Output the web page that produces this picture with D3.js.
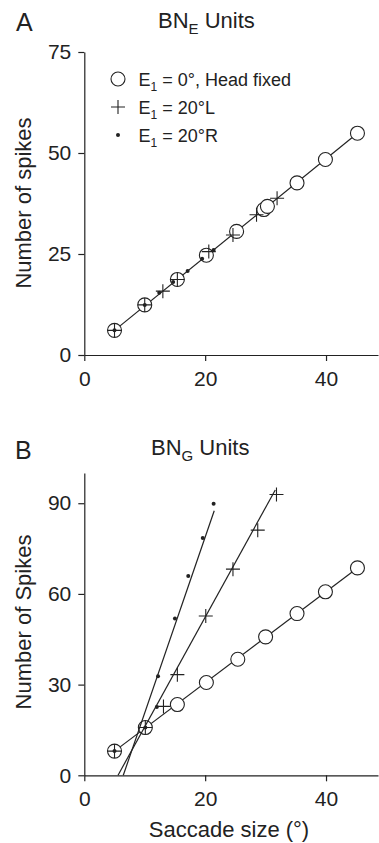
<!DOCTYPE html>
<html><head><meta charset="utf-8">
<script src="https://cdn.jsdelivr.net/npm/d3@7/dist/d3.min.js"></script>
<style>
html,body{margin:0;padding:0;background:#fff;}
svg{display:block;font-family:"Liberation Sans",Arial,Helvetica,sans-serif;}
</style></head>
<body>
<svg id="chart" width="379" height="843"></svg>
<script>
// ---------- DATA ----------
const xTicks = [0, 20, 40];
const yTicksA = [0, 25, 50, 75];
const yTicksB = [0, 30, 60, 90];

// Panel A (BN_E units)
const circA_x = [5, 10, 15.4, 20.2, 25.2, 29.7, 30.3, 35.2, 39.9, 45.2];
const circA_y = [6.1, 12.4, 18.7, 24.7, 30.6, 36.0, 36.8, 42.6, 48.4, 54.9];
const plusA_x = [5, 10, 13, 15.4, 20.6, 24.6, 28.5, 31.9];
const plusA_y = [6.1, 12.4, 15.8, 18.7, 25.6, 29.7, 34.7, 38.8];
const dotA_x = [5, 10, 12.4, 14.7, 17.1, 19.5, 21.4];
const dotA_y = [6.1, 12.4, 15.4, 18.1, 20.8, 23.8, 26.0];
const fitA_x = [5, 45.2];
const fitA_y = [6.1, 54.9];

// Panel B (BN_G units)
const circB_x = [5, 10.1, 15.4, 20.2, 25.4, 30, 35.2, 39.9, 45.2];
const circB_y = [8, 15.8, 23.4, 30.7, 38.4, 45.8, 53.5, 60.7, 68.6];
const plusB_x = [5, 10.1, 13.1, 15.4, 20.1, 24.6, 28.7, 31.8];
const plusB_y = [8, 15.8, 22.8, 33.3, 52.7, 68.2, 81.1, 92.9];
const dotB_x = [5, 10.1, 12, 12.2, 15, 17.2, 19.6, 21.4];
const dotB_y = [8, 15.8, 22.6, 32.8, 51.9, 65.9, 78.5, 89.8];
const fitBcirc_x = [5, 45.2];
const fitBcirc_y = [8, 68.6];
const fitBplus_x = [5.58, 31.6];
const fitBplus_y = [0, 94.4];
const fitBdot_x = [6.45, 21.5];
const fitBdot_y = [0, 87.5];

const legendLabels = ["0°, Head fixed", "20°L", "20°R"];

// ---------- DRAW ----------
const ink = "#222";
const svg = d3.select("#chart");
const zip = (xs, ys) => xs.map((x, i) => [x, ys[i]]);

const x = d3.scaleLinear().domain([0, 48.6]).range([84.3, 378]);
const yA = d3.scaleLinear().domain([0, 75]).range([355, 52]);
const yB = d3.scaleLinear().domain([0, 100]).range([775.3, 473]);

function axes(y, ticks) {
  const gx = svg.append("g").attr("transform", `translate(0,${y.range()[0]})`)
    .call(d3.axisBottom(x).tickValues(xTicks).tickSize(6).tickPadding(10).tickSizeOuter(0));
  const gy = svg.append("g").attr("transform", `translate(${x.range()[0]},0)`)
    .call(d3.axisLeft(y).tickValues(ticks).tickSize(6).tickPadding(7).tickSizeOuter(0));
  [gx, gy].forEach(g => {
    g.select(".domain").attr("stroke", ink).attr("stroke-width", 1.2);
    g.selectAll(".tick line").attr("stroke", ink).attr("stroke-width", 1.2);
    g.selectAll(".tick text").attr("fill", ink).style("font-size", "21px")
      .style("font-family", '"Liberation Sans",Arial,sans-serif');
  });
}

function fitLine(y, xs, ys) {
  svg.append("path").datum(zip(xs, ys))
    .attr("d", d3.line().x(d => x(d[0])).y(d => y(d[1])))
    .attr("fill", "none").attr("stroke", ink).attr("stroke-width", 1.2);
}
function circles(y, xs, ys) {
  svg.append("g").selectAll("circle").data(zip(xs, ys)).join("circle")
    .attr("cx", d => x(d[0])).attr("cy", d => y(d[1])).attr("r", 7)
    .attr("fill", "#fff").attr("stroke", ink).attr("stroke-width", 1.1);
}
const plusPath = (cx, cy, h) => `M${cx - h},${cy}H${cx + h}M${cx},${cy - h}V${cy + h}`;
function pluses(y, xs, ys) {
  svg.append("g").selectAll("path").data(zip(xs, ys)).join("path")
    .attr("d", d => plusPath(x(d[0]), y(d[1]), 7))
    .attr("fill", "none").attr("stroke", ink).attr("stroke-width", 1.1);
}
function dots(y, xs, ys) {
  svg.append("g").selectAll("circle").data(zip(xs, ys)).join("circle")
    .attr("cx", d => x(d[0])).attr("cy", d => y(d[1])).attr("r", 2)
    .attr("fill", ink);
}

// Panel A
axes(yA, yTicksA);
fitLine(yA, fitA_x, fitA_y);
circles(yA, circA_x, circA_y);
pluses(yA, plusA_x, plusA_y);
dots(yA, dotA_x, dotA_y);

// Panel B
axes(yB, yTicksB);
fitLine(yB, fitBcirc_x, fitBcirc_y);
circles(yB, circB_x, circB_y);
fitLine(yB, fitBplus_x, fitBplus_y);
pluses(yB, plusB_x, plusB_y);
fitLine(yB, fitBdot_x, fitBdot_y);
dots(yB, dotB_x, dotB_y);

// Legend (panel A)
const legY = [79, 107, 135];
svg.append("circle").attr("cx", 118).attr("cy", legY[0]).attr("r", 7)
  .attr("fill", "#fff").attr("stroke", ink).attr("stroke-width", 1.1);
svg.append("path").attr("d", plusPath(118, legY[1], 7)).attr("stroke", ink).attr("stroke-width", 1.1);
svg.append("circle").attr("cx", 118).attr("cy", legY[2]).attr("r", 2).attr("fill", ink);
legendLabels.forEach((lab, i) => {
  const t = svg.append("text").attr("x", 138.5).attr("y", legY[i] + 6.5)
    .attr("fill", ink).style("font-size", "18px");
  t.append("tspan").text("E");
  t.append("tspan").attr("dy", 5).style("font-size", "12px").text("1");
  t.append("tspan").attr("dy", -5).text(" = " + lab);
});

// Titles
function title(xp, yp, main, sub) {
  const t = svg.append("text").attr("x", xp).attr("y", yp).attr("fill", ink).style("font-size", "22px");
  t.append("tspan").text(main);
  t.append("tspan").attr("dy", 6).style("font-size", "15px").text(sub);
  t.append("tspan").attr("dy", -6).text(" Units");
}
title(158, 27.5, "BN", "E");
title(151, 454.5, "BN", "G");

svg.append("text").attr("x", 16).attr("y", 31).attr("fill", ink).style("font-size", "25px").text("A");
svg.append("text").attr("x", 15).attr("y", 458.5).attr("fill", ink).style("font-size", "25px").text("B");

// Axis titles
svg.append("text").attr("transform", "translate(31,203) rotate(-90)").attr("text-anchor", "middle")
  .attr("fill", ink).style("font-size", "22px").text("Number of spikes");
svg.append("text").attr("transform", "translate(31,622) rotate(-90)").attr("text-anchor", "middle")
  .attr("fill", ink).style("font-size", "22px").text("Number of Spikes");
svg.append("text").attr("x", 229).attr("y", 836.5).attr("text-anchor", "middle")
  .attr("fill", ink).style("font-size", "22px").text("Saccade size (°)");
</script>
</body></html>
